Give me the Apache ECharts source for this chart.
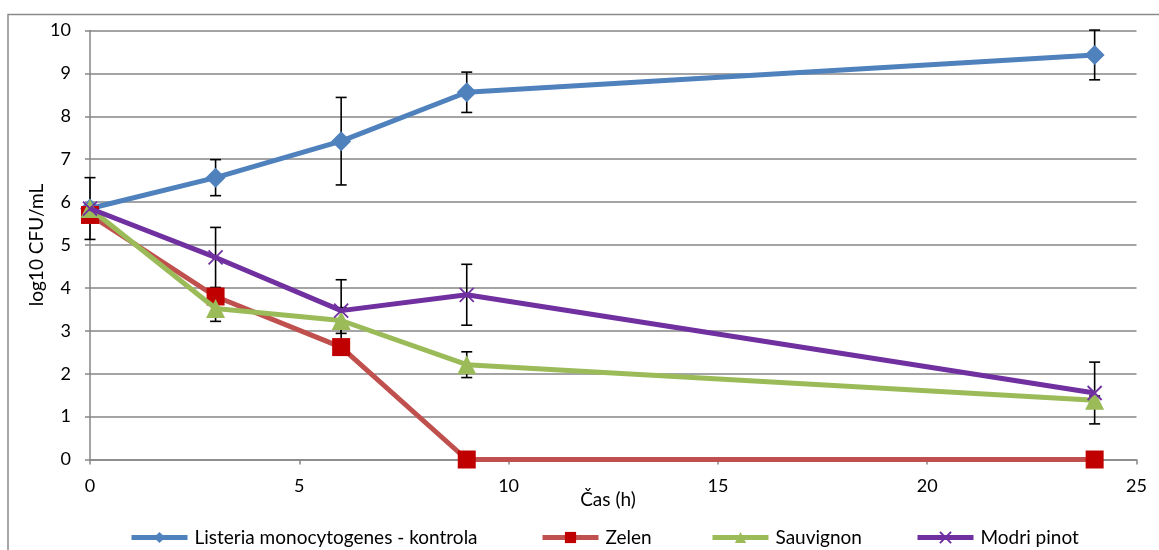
<!DOCTYPE html>
<html>
<head>
<meta charset="utf-8">
<script src="https://cdn.jsdelivr.net/npm/echarts@6/dist/echarts.min.js"></script>
<style>
  html, body { margin: 0; padding: 0; background: #fff; }
  #chart { width: 1159px; height: 550px; }
</style>
</head>
<body>
<div id="chart"></div>
<script>
// Sampling times (h)
const hours = [0, 3, 6, 9, 24];

// log10 CFU/mL per treatment
const listeria = [5.85, 6.57, 7.42, 8.56, 9.43];
const zelen = [5.70, 3.80, 2.62, 0, 0];
const sauvignon = [5.85, 3.52, 3.24, 2.21, 1.38];
const modriPinot = [5.85, 4.71, 3.47, 3.84, 1.55];

// Standard deviations (error bars)
const listeriaErr = [0.72, 0.42, 1.02, 0.47, 0.58];
const zelenErr = [0, 0, 0, 0, 0];
const sauvignonErr = [0, 0.30, 0.30, 0.30, 0.10];
const modriPinotErr = [0, 0.70, 0.72, 0.71, 0.72];

const seriesNames = ['Listeria monocytogenes - kontrola', 'Zelen', 'Sauvignon', 'Modri pinot'];

// Axis ticks
const xTicks = [0, 5, 10, 15, 20, 25];
const yTicks = [0, 1, 2, 3, 4, 5, 6, 7, 8, 9, 10];

const FONT = 'Lato';
const pairs = (ys) => hours.map((t, i) => [t, ys[i]]);

const errorData = [];
[[listeria, listeriaErr], [zelen, zelenErr], [sauvignon, sauvignonErr], [modriPinot, modriPinotErr]]
  .forEach(([vals, errs]) => {
    vals.forEach((v, i) => {
      if (errs[i] > 0) errorData.push([hours[i], v - errs[i], v + errs[i]]);
    });
  });

function errorBar(params, api) {
  const lo = api.coord([api.value(0), api.value(1)]);
  const hi = api.coord([api.value(0), api.value(2)]);
  const half = 5.5;
  const style = { stroke: '#000', lineWidth: 1.6 };
  return {
    type: 'group',
    children: [
      { type: 'line', shape: { x1: lo[0], y1: lo[1], x2: hi[0], y2: hi[1] }, style },
      { type: 'line', shape: { x1: hi[0] - half, y1: hi[1], x2: hi[0] + half, y2: hi[1] }, style },
      { type: 'line', shape: { x1: lo[0] - half, y1: lo[1], x2: lo[0] + half, y2: lo[1] }, style }
    ]
  };
}

const colors = {
  listeria: '#4F81BD',
  zelenLine: '#C0504D',
  zelenMark: '#C00000',
  sauvignon: '#9BBB59',
  modri: '#7030A0'
};

const crossPath = 'path://M0,0L10,10M10,0L0,10';

const chart = echarts.init(document.getElementById('chart'), null, { renderer: 'canvas' });

const legendBase = {
  top: 523,
  itemWidth: 56,
  itemHeight: 14,
  itemGap: 0,
  lineStyle: { width: 5 },
  textStyle: { fontFamily: FONT, fontSize: 19, color: '#000', padding: [0, 0, 0, 2] },
  selectedMode: false
};

chart.setOption({
  animation: false,
  backgroundColor: '#fff',
  grid: { left: 90, right: 22.5, top: 30.5, bottom: 90.5, containLabel: false },
  xAxis: {
    type: 'value',
    min: xTicks[0],
    max: xTicks[xTicks.length - 1],
    interval: 5,
    axisLine: { show: true, lineStyle: { color: '#868686', width: 1.5 } },
    axisTick: { show: true, length: 5, lineStyle: { color: '#868686', width: 1.5 } },
    axisLabel: { fontFamily: FONT, fontSize: 18, color: '#000', margin: 18 },
    splitLine: { show: false }
  },
  yAxis: {
    type: 'value',
    min: yTicks[0],
    max: yTicks[yTicks.length - 1],
    interval: 1,
    axisLine: { show: true, lineStyle: { color: '#868686', width: 1.5 } },
    axisTick: { show: true, length: 5, lineStyle: { color: '#868686', width: 1.5 } },
    axisLabel: { fontFamily: FONT, fontSize: 18, color: '#000', margin: 19 },
    splitLine: { show: true, lineStyle: { color: '#868686', width: 1.5 } }
  },
  legend: [
    Object.assign({}, legendBase, { left: 124, data: [seriesNames[0]] }),
    Object.assign({}, legendBase, { left: 535, data: [seriesNames[1]] }),
    Object.assign({}, legendBase, { left: 705, data: [seriesNames[2]] }),
    Object.assign({}, legendBase, { left: 910, data: [seriesNames[3]] })
  ],
  graphic: [
    {
      type: 'rect',
      shape: { x: 8, y: 14.5, width: 1300, height: 700 },
      style: { fill: 'none', stroke: '#8a8a8a', lineWidth: 1.5 },
      silent: true
    },
    {
      type: 'text',
      x: 608,
      y: 500,
      style: {
        text: 'Čas (h)',
        fontFamily: FONT,
        fontSize: 19,
        fill: '#000',
        align: 'center',
        verticalAlign: 'middle'
      }
    },
    {
      type: 'text',
      x: 37,
      y: 245,
      rotation: Math.PI / 2,
      style: {
        text: 'log10 CFU/mL',
        fontFamily: FONT,
        fontSize: 19,
        fill: '#000',
        align: 'center',
        verticalAlign: 'middle'
      }
    }
  ],
  series: [
    {
      type: 'custom',
      name: 'err',
      renderItem: errorBar,
      data: errorData,
      encode: { x: 0, y: [1, 2] },
      z: 1,
      silent: true
    },
    {
      name: seriesNames[0],
      type: 'line',
      data: pairs(listeria),
      symbol: 'diamond',
      symbolSize: 20,
      lineStyle: { color: colors.listeria, width: 5 },
      itemStyle: { color: colors.listeria },
      z: 2
    },
    {
      name: seriesNames[1],
      type: 'line',
      data: pairs(zelen),
      symbol: 'rect',
      symbolSize: 18,
      lineStyle: { color: colors.zelenLine, width: 5 },
      itemStyle: { color: colors.zelenMark },
      z: 3
    },
    {
      name: seriesNames[2],
      type: 'line',
      data: pairs(sauvignon),
      symbol: 'triangle',
      symbolSize: 19,
      lineStyle: { color: colors.sauvignon, width: 5 },
      itemStyle: { color: colors.sauvignon },
      z: 4
    },
    {
      name: seriesNames[3],
      type: 'line',
      data: pairs(modriPinot),
      symbol: crossPath,
      symbolSize: 14,
      lineStyle: { color: colors.modri, width: 5 },
      itemStyle: { color: colors.modri, borderColor: colors.modri, borderWidth: 1.8 },
      z: 5
    }
  ]
});
</script>
</body>
</html>
